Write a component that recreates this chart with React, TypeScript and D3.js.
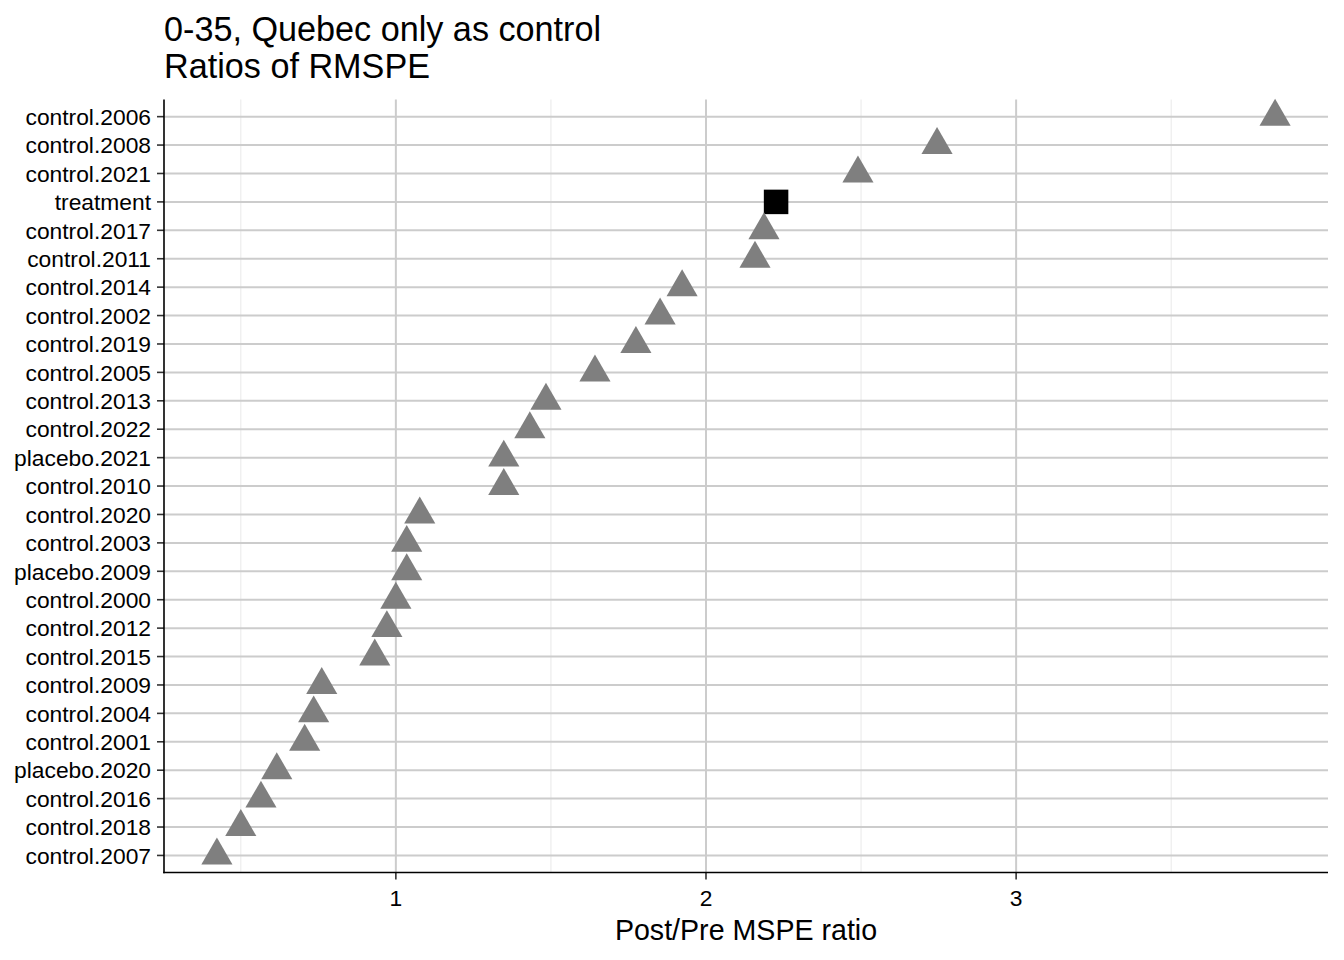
import * as d3 from "d3";

// categories top to bottom
const labels = [
  "control.2006", "control.2008", "control.2021", "treatment", "control.2017",
  "control.2011", "control.2014", "control.2002", "control.2019", "control.2005",
  "control.2013", "control.2022", "placebo.2021", "control.2010", "control.2020",
  "control.2003", "placebo.2009", "control.2000", "control.2012", "control.2015",
  "control.2009", "control.2004", "control.2001", "placebo.2020", "control.2016",
  "control.2018", "control.2007",
];
const ratios = [
  3.835, 2.745, 2.49, 2.226, 2.187,
  2.158, 1.923, 1.852, 1.774, 1.642,
  1.484, 1.432, 1.348, 1.348, 1.077,
  1.035, 1.035, 1.0, 0.971, 0.932,
  0.761, 0.735, 0.706, 0.616, 0.565,
  0.5, 0.423,
];
const xTicks = [1, 2, 3];
const xMinor = [0.5, 1.5, 2.5, 3.5];
const titleLines = ["0-35, Quebec only as control", "Ratios of RMSPE"];
const xTitle = "Post/Pre MSPE ratio";

const width = 1344;
const height = 960;
const marginLeft = 164;
const marginRight = 16;
const marginTop = 99.6;
const marginBottom = 87.5;
const font = "'Liberation Sans', Arial, sans-serif";

export default function App() {
  const [lo, hi] = d3.extent(ratios) as [number, number];
  const pad = (hi - lo) * 0.05;
  const x = d3.scaleLinear([lo - pad, hi + pad], [marginLeft, width - marginRight]);
  const y = d3
    .scalePoint<string>()
    .domain(labels)
    .range([marginTop, height - marginBottom])
    .padding(0.6);

  const bottom = height - marginBottom;
  const right = width - marginRight;
  const tri = d3.symbol(d3.symbolTriangle, 420)();

  return (
    <div style={{ position: "absolute", left: 0, top: 0 }}>
      <svg width={width} height={height} style={{ display: "block", background: "white" }} fontFamily={font}>
        {titleLines.map((t, i) => (
          <text key={t} x={marginLeft} y={41 + i * 37.3} fontSize={34.2} fill="black">
            {t}
          </text>
        ))}
        {/* grid */}
        <g>
          {xMinor.map((v) => (
            <line key={"m" + v} x1={x(v)} x2={x(v)} y1={marginTop} y2={bottom} stroke="#ebebeb" strokeWidth={1.1} />
          ))}
          {xTicks.map((v) => (
            <line key={"M" + v} x1={x(v)} x2={x(v)} y1={marginTop} y2={bottom} stroke="#cccccc" strokeWidth={2} />
          ))}
          {labels.map((l) => (
            <line key={l} x1={marginLeft} x2={right} y1={y(l)} y2={y(l)} stroke="#cccccc" strokeWidth={2} />
          ))}
        </g>
        {/* points */}
        <g>
          {labels.map((l, i) =>
            l === "treatment" ? (
              <rect key={l} x={x(ratios[i]) - 12.25} y={y(l)! - 12.25} width={24.5} height={24.5} fill="black" />
            ) : (
              <path key={l} d={tri!} transform={`translate(${x(ratios[i])},${y(l)})`} fill="#7f7f7f" />
            )
          )}
        </g>
        {/* axes */}
        <g>
          {labels.map((l) => (
            <g key={l}>
              <line x1={marginLeft - 7} x2={marginLeft} y1={y(l)} y2={y(l)} stroke="#333333" strokeWidth={1.6} />
              <text x={marginLeft - 13} y={y(l)} dy="0.36em" textAnchor="end" fontSize={22.8} fill="black">
                {l}
              </text>
            </g>
          ))}
          {xTicks.map((v) => (
            <g key={v}>
              <line x1={x(v)} x2={x(v)} y1={bottom} y2={bottom + 7} stroke="#333333" strokeWidth={1.6} />
              <text x={x(v)} y={906} textAnchor="middle" fontSize={22.8} fill="black">
                {v}
              </text>
            </g>
          ))}
          <line x1={marginLeft} x2={marginLeft} y1={marginTop} y2={bottom + 0.8} stroke="black" strokeWidth={1.6} />
          <line x1={marginLeft - 0.8} x2={right} y1={bottom} y2={bottom} stroke="black" strokeWidth={1.6} />
        </g>
        <text x={(marginLeft + right) / 2} y={940} textAnchor="middle" fontSize={28.6} fill="black">
          {xTitle}
        </text>
      </svg>
    </div>
  );
}
